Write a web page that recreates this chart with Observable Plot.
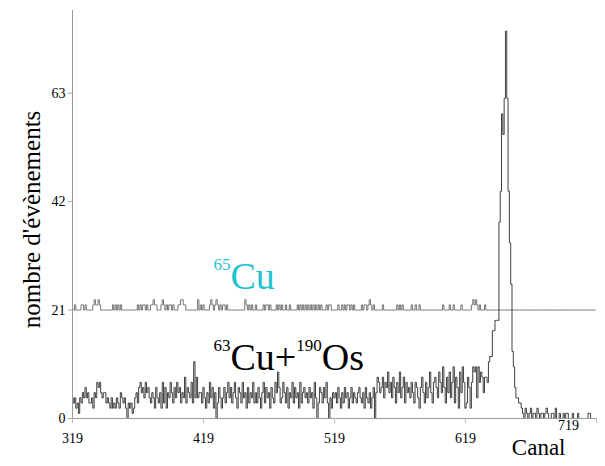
<!DOCTYPE html>
<html><head><meta charset="utf-8">
<script src="https://cdn.jsdelivr.net/npm/d3@7"></script>
<script src="https://cdn.jsdelivr.net/npm/@observablehq/plot@0.6"></script>
<style>
html,body{margin:0;padding:0;background:#fff}
svg, svg text{font-family:"Liberation Serif","Times New Roman",serif !important;font-variant-numeric:normal !important}
</style>
</head><body><div id="chart"></div>
<script>
// ---- data ----
const startChannel = 319;
const xTicks = [319, 419, 519, 619, 719];
const yTicks = [0, 21, 42, 63];

// 63Cu + 190Os spectrum (counts per channel, from channel 319)
const cuOsCounts = [
  4,3,4,2,3,1,4,3,5,4,6,4,5,3,3,4,2,5,4,7,
  6,7,5,4,5,5,3,4,3,2,4,2,3,2,4,3,2,5,4,3,
  4,2,0,3,2,3,1,2,4,5,3,6,7,5,6,4,7,5,6,4,
  3,5,4,2,6,4,3,5,2,7,3,6,2,5,4,7,5,3,6,4,
  7,5,6,3,5,4,8,3,6,5,4,7,3,11,4,8,4,5,5,3,
  6,4,2,5,3,7,4,6,2,5,0,3,6,4,2,4,6,3,5,7,
  4,6,3,5,7,4,2,6,5,3,7,4,5,2,6,3,5,4,7,3,
  5,3,6,4,2,5,7,3,6,4,5,2,6,4,3,7,5,9,6,3,
  4,7,5,3,6,2,5,4,7,3,6,4,5,2,7,3,5,6,4,5,
  3,6,4,5,2,7,4,0,3,6,5,3,6,4,7,3,0,4,2,5,
  4,5,3,6,4,2,5,3,6,4,5,2,4,6,3,5,4,3,5,6,
  4,3,5,2,6,4,3,5,2,4,6,0,5,8,7,5,6,8,4,7,
  6,9,5,7,4,8,6,3,7,5,9,4,6,8,3,7,5,6,4,7,
  5,3,7,6,4,2,6,8,5,3,7,4,6,9,5,3,7,8,6,4,
  9,7,5,10,6,3,8,5,9,4,7,10,3,8,6,2,9,5,10,7,
  2,3,8,6,2,7,10,9,10,4,10,7,9,8,5,8,8,7,11,12,
  12,17,17,19,19,19,38,44,59,55,62,75,62,44,34,26,13,10,6,4,
  4,3,3,2,1,0,2,1,0,1,2,0,1,1,0,2,1,0,1,1,
  0,1,2,1,0,0,1,1,0,2,0,0,1,0,0,1,0,1,1,0,
  0,0,1,0,0,0,1,0,0,0,0,0,0,0,1,1,0,0,0,0
];

// 65Cu spectrum as drawn (baseline 21)
const cu65Counts = [
  21,21,22,21,21,21,21,22,22,21,22,21,21,21,21,21,22,23,22,22,
  23,22,21,21,21,21,21,21,21,21,21,22,21,22,21,22,21,22,21,21,
  21,21,21,21,21,21,21,21,21,21,22,21,22,21,22,22,21,22,21,21,
  22,22,23,22,22,21,21,21,22,23,22,21,22,21,22,22,21,22,21,21,
  21,22,22,23,23,22,22,21,21,21,21,21,21,21,21,21,23,21,22,21,
  22,21,21,21,21,22,23,22,21,22,23,22,21,22,21,22,22,21,22,21,
  21,21,21,21,21,21,21,21,21,21,21,21,23,22,21,22,21,22,21,21,
  22,21,21,21,21,21,22,21,22,22,21,22,21,21,21,21,22,21,22,21,
  22,21,21,22,21,21,22,21,21,21,21,21,22,21,22,21,22,21,22,21,
  22,21,22,21,22,21,22,21,22,21,22,21,21,21,22,21,22,22,21,21,
  21,21,21,22,21,21,22,21,22,21,22,22,21,22,21,22,21,21,21,21,
  21,22,21,22,22,21,22,23,22,21,22,21,21,21,21,21,21,22,21,21,
  21,21,21,21,21,21,21,21,22,21,22,21,22,21,21,21,21,21,21,22,
  21,21,22,21,21,22,21,21,21,21,21,21,21,21,21,21,21,21,21,21,
  21,21,21,22,21,21,21,21,22,21,21,22,21,21,21,21,21,22,21,21,
  21,21,21,21,21,22,23,22,23,22,21,22,21,21,21,22,21,21,21,21,
  21,21,21,21,21,21,21,21,21,21,21,21,21,21,21,21,21,21,21,21,
  21,21,21,21,21,21,21,21,21,21,21,21,21,21,21,21,21,21,21,21,
  21,21,21,21,21,21,21,21,21,21,21,21,21,21,21,21,21,21,21,21,
  21,21,21,21,21,21,21,21,21,21,21,21,21,21,21,21,21,21,21,21
];

// annotations (data coordinates) and their text parts
const annotationText = ["65Cu", "63Cu+190Os"];
const annotationParts = [
  [{t:"65", sup:true}, {t:"Cu"}],
  [{t:"63", sup:true}, {t:"Cu+"}, {t:"190", sup:true}, {t:"Os"}]
];
const annotationChannel = [426.6, 426.6];
const annotationCount = [27.5, 11.8];
const annotationColor = ["#1fc4cf", "#000000"];

const yLabel = "nombre d'évènements";
const xLabel = "Canal";

// ---- tables ----
const cuOsData = cuOsCounts.map((v, i) => ({ch: startChannel + i, v}));
const cu65Data = cu65Counts.map((v, i) => ({ch: startChannel + i, v}));
const annotations = annotationText.map((t, i) => ({t, x: annotationChannel[i], y: annotationCount[i], c: annotationColor[i]}));

const chart = Plot.plot({
  width: 605,
  height: 466,
  marginLeft: 72,
  marginRight: 9,
  marginTop: 10,
  marginBottom: 48,
  x: {domain: [319, 719]},
  y: {domain: [0, 79]},
  style: {fontFamily: "'Liberation Serif', serif", background: "#fff", overflow: "visible"},
  marks: [
    Plot.lineY(cu65Data, {x: "ch", y: "v", curve: "step", stroke: "#666", strokeWidth: 0.9}),
    Plot.lineY(cuOsData, {x: "ch", y: "v", curve: "step", stroke: "#2a2a2a", strokeWidth: 0.9}),
    Plot.ruleX([319], {stroke: "#999"}),
    Plot.ruleY([0], {stroke: "#999"}),
    Plot.axisY({ticks: yTicks, tickSize: 4, tickPadding: 3, fontSize: 14, label: null, stroke: "#aaa", fill: "#000"}),
    Plot.axisX({ticks: xTicks, tickSize: 5, tickPadding: 10, fontSize: 14, label: null, stroke: "#bbb", fill: "#000",
      tickFormat: d => d === 719 ? "" : String(d)}),
    Plot.axisX({ticks: [719], tickSize: 0, tickPadding: 0, fontSize: 14, label: null, fill: "#000", dx: -28, dy: 2}),
    Plot.text([yLabel], {text: d => d, frameAnchor: "left", textAnchor: "middle", rotate: -90, dx: -41, dy: 5, fontSize: 25, fill: "#000"}),
    Plot.text([xLabel], {text: d => d, frameAnchor: "bottom-right", textAnchor: "end", dx: -31, dy: 36, fontSize: 23, fill: "#000"}),
    Plot.text(annotations, {x: "x", y: "y", text: "t", fill: "c", textAnchor: "start", fontSize: 38})
  ]
});

// superscripts inside annotation labels
const svg = chart.tagName.toLowerCase() === "svg" ? chart : chart.querySelector("svg");
annotationText.forEach((label, i) => {
  d3.select(svg).selectAll("text").filter(function(){ return this.textContent === label; }).each(function(){
    const t = d3.select(this);
    t.text(null);
    let shift = 0;
    annotationParts[i].forEach(p => {
      const target = p.sup ? -19 : 0;
      const ts = t.append("tspan").attr("dy", target - shift).text(p.t);
      if (p.sup) ts.attr("font-size", 17);
      shift = target;
    });
  });
});

document.getElementById("chart").appendChild(chart);
</script>
</body></html>
